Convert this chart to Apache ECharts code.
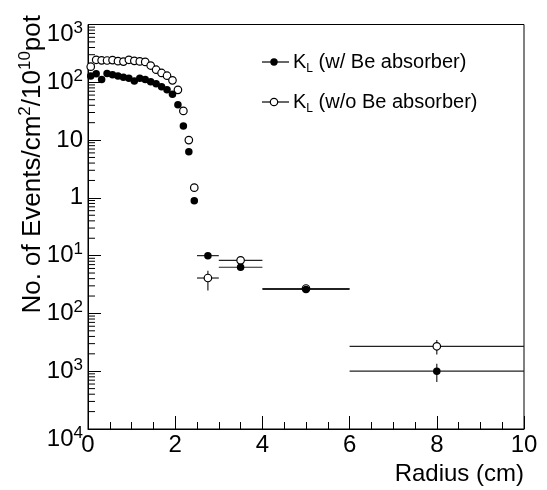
<!DOCTYPE html>
<html>
<head>
<meta charset="utf-8">
<script src="https://cdn.jsdelivr.net/npm/echarts@6/dist/echarts.min.js"></script>
<style>
html,body{margin:0;padding:0;background:#fff;}
#chart{width:547px;height:490px;}
</style>
</head>
<body>
<div id="chart"></div>
<script>
// ---- data ----
const radiusBins = [0.0625,0.1875,0.3125,0.4375,0.5625,0.6875,0.8125,0.9375,1.0625,1.1875,
                    1.3125,1.4375,1.5625,1.6875,1.8125,1.9375,2.0625,2.1875,2.3125,2.4375];
const withBe    = [128,140,112,142,135,128,122,118,105,117,112,102,94,84,74,62,41,17.5,6.3,0.89];
const withoutBe = [186,245,240,238,242,232,228,245,235,230,225,195,165,145,130,108,74,32,10,1.5];

const sparseRadius    = [2.75,3.5,5,8];
const sparseHalfWidth = [0.25,0.5,1,2];
const withBeSparse    = [0.10,0.063,0.026,0.001];
const withBeSparseLo  = [0.10,0.063,0.026,0.00065];
const withBeSparseHi  = [0.10,0.063,0.026,0.00135];
const withoutBeSparse   = [0.041,0.083,0.027,0.0027];
const withoutBeSparseLo = [0.025,0.083,0.027,0.00195];
const withoutBeSparseHi = [0.055,0.083,0.027,0.00347];

const xTicks = [0,2,4,6,8,10];
const yExponents = [-4,-3,-2,-1,0,1,2,3];
const yTickBase  = ['10','10','10','10','1','10','10','10'];
const yTickSup   = ['4','3','2','1','','','2','3'];
const yMinorMantissa = [2,3,4,5,6,7,8,9];

const legendNames = ['(w/ Be absorber)','(w/o Be absorber)'];

// ---- build ----
const FONT = 'Liberation Sans, Arial, Helvetica, sans-serif';
const pts = (xs, ys) => xs.map((x,i)=>[x, ys[i]]);
const sparseErr = (ys, lo, hi) => sparseRadius.map((x,i)=>[x, ys[i], x-sparseHalfWidth[i], x+sparseHalfWidth[i], lo[i], hi[i]]);

const minorVals = [];
yExponents.slice(0,-1).forEach(e => yMinorMantissa.forEach(m => minorVals.push([0, m*Math.pow(10,e)])));

function errRender(params, api){
  const x = api.value(0), y = api.value(1), x0 = api.value(2), x1 = api.value(3), ylo = api.value(4), yhi = api.value(5);
  const pL = api.coord([x0,y]), pR = api.coord([x1,y]);
  const pB = api.coord([x,ylo]), pT = api.coord([x,yhi]);
  const st = {stroke:'#222', lineWidth:1.2};
  return {type:'group', children:[
    {type:'line', shape:{x1:pL[0],y1:pL[1],x2:pR[0],y2:pR[1]}, style:st},
    {type:'line', shape:{x1:pB[0],y1:pB[1],x2:pT[0],y2:pT[1]}, style:st}
  ]};
}
function minorRender(params, api){
  const p = api.coord([api.value(0), api.value(1)]);
  return {type:'line', shape:{x1:p[0], y1:p[1], x2:p[0]+7, y2:p[1]}, style:{stroke:'#000', lineWidth:1}};
}

function yLabel(v){
  const e = Math.round(Math.log10(v));
  const i = yExponents.indexOf(e);
  if (i < 0) return '';
  const edge = (i === 0 || i === yExponents.length-1);
  const b = edge ? 'e' : 'b';
  const s = edge ? 'se' : 's';
  const sup = yTickSup[i] ? '{' + s + '|' + yTickSup[i] + '}' : '';
  return '{' + b + '|' + yTickBase[i] + '}' + sup;
}

const chart = echarts.init(document.getElementById('chart'), null, {renderer:'canvas'});
const option = {
  animation:false,
  backgroundColor:'#fff',
  grid:{left:88, right:23, top:15, bottom:61, show:true, borderColor:'#000', borderWidth:1, backgroundColor:'transparent'},
  xAxis:{
    type:'value', min:xTicks[0], max:xTicks[xTicks.length-1], interval:2,
    axisLine:{lineStyle:{color:'#000', width:1}},
    axisTick:{inside:true, length:13, lineStyle:{color:'#000'}},
    minorTick:{show:true, splitNumber:4, length:7, lineStyle:{color:'#000'}},
    splitLine:{show:false},
    axisLabel:{fontSize:24, color:'#000', fontFamily:FONT, margin:4},
    name:'Radius (cm)', nameLocation:'end', nameGap:0,
    nameTextStyle:{fontSize:24, color:'#000', fontFamily:FONT, align:'right', verticalAlign:'top', padding:[33,0,0,0]}
  },
  yAxis:{
    type:'log', logBase:10, min:1e-4, max:1e3, splitNumber:7,
    axisLine:{lineStyle:{color:'#000', width:1}},
    axisTick:{inside:true, length:13, lineStyle:{color:'#000'}},
    splitLine:{show:false},
    axisLabel:{
      color:'#000', margin:5, formatter:yLabel,
      rich:{
        b:{fontSize:24, fontFamily:FONT, color:'#000', lineHeight:24},
        s:{fontSize:17, fontFamily:FONT, color:'#000', lineHeight:17, padding:[0,0,12,0]},
        e:{fontSize:24, fontFamily:FONT, color:'#000', lineHeight:24, padding:[20,0,0,0]},
        se:{fontSize:17, fontFamily:FONT, color:'#000', lineHeight:17, padding:[20,0,12,0]}
      }
    }
  },
  series:[
    {type:'custom', name:'minor', data:minorVals, renderItem:minorRender, silent:true, z:1, clip:false},
    {type:'custom', name:'errWo', data:sparseErr(withoutBeSparse, withoutBeSparseLo, withoutBeSparseHi), renderItem:errRender, z:2, clip:false},
    {type:'custom', name:'errW', data:sparseErr(withBeSparse, withBeSparseLo, withBeSparseHi), renderItem:errRender, z:2, clip:false},
    {type:'scatter', name:'wo', data:pts(radiusBins, withoutBe).concat(pts(sparseRadius, withoutBeSparse)),
      symbol:'circle', symbolSize:7.5, itemStyle:{color:'#fff', borderColor:'#000', borderWidth:1.2, opacity:1}, z:3},
    {type:'scatter', name:'w', data:pts(radiusBins, withBe).concat(pts(sparseRadius, withBeSparse)),
      symbol:'circle', symbolSize:7.5, itemStyle:{color:'#000', opacity:1}, z:4}
  ],
  graphic:[
    {type:'text', x:33, y:15, rotation:Math.PI/2,
     style:{text:'{a|No. of Events/cm}{s|2}{a|/10}{s|10}{a|pot}', align:'right', verticalAlign:'middle',
       rich:{a:{fontSize:26, fontFamily:FONT, fill:'#000', lineHeight:26}, s:{fontSize:17, fontFamily:FONT, fill:'#000', lineHeight:17, padding:[0,0,16,0]}}}},
    {type:'line', shape:{x1:262,y1:62,x2:289,y2:62}, style:{stroke:'#000', lineWidth:1.2}},
    {type:'circle', shape:{cx:274, cy:62, r:3.7}, style:{fill:'#000'}},
    {type:'text', x:293, y:62, style:{text:'{k|K}{l|L}{a| ' + legendNames[0] + '}', align:'left', verticalAlign:'middle',
       rich:{k:{fontSize:20, fontFamily:FONT, fill:'#000', lineHeight:20}, l:{fontSize:12, fontFamily:FONT, fill:'#000', lineHeight:12, padding:[14,0,0,0]}, a:{fontSize:20, fontFamily:FONT, fill:'#000', lineHeight:20}}}},
    {type:'line', shape:{x1:262,y1:102,x2:289,y2:102}, style:{stroke:'#000', lineWidth:1.2}},
    {type:'circle', shape:{cx:274, cy:102, r:3.7}, style:{fill:'#fff', stroke:'#000', lineWidth:1.2}},
    {type:'text', x:293, y:102, style:{text:'{k|K}{l|L}{a| ' + legendNames[1] + '}', align:'left', verticalAlign:'middle',
       rich:{k:{fontSize:20, fontFamily:FONT, fill:'#000', lineHeight:20}, l:{fontSize:12, fontFamily:FONT, fill:'#000', lineHeight:12, padding:[14,0,0,0]}, a:{fontSize:20, fontFamily:FONT, fill:'#000', lineHeight:20}}}}
  ]
};
chart.setOption(option);
</script>
</body>
</html>
